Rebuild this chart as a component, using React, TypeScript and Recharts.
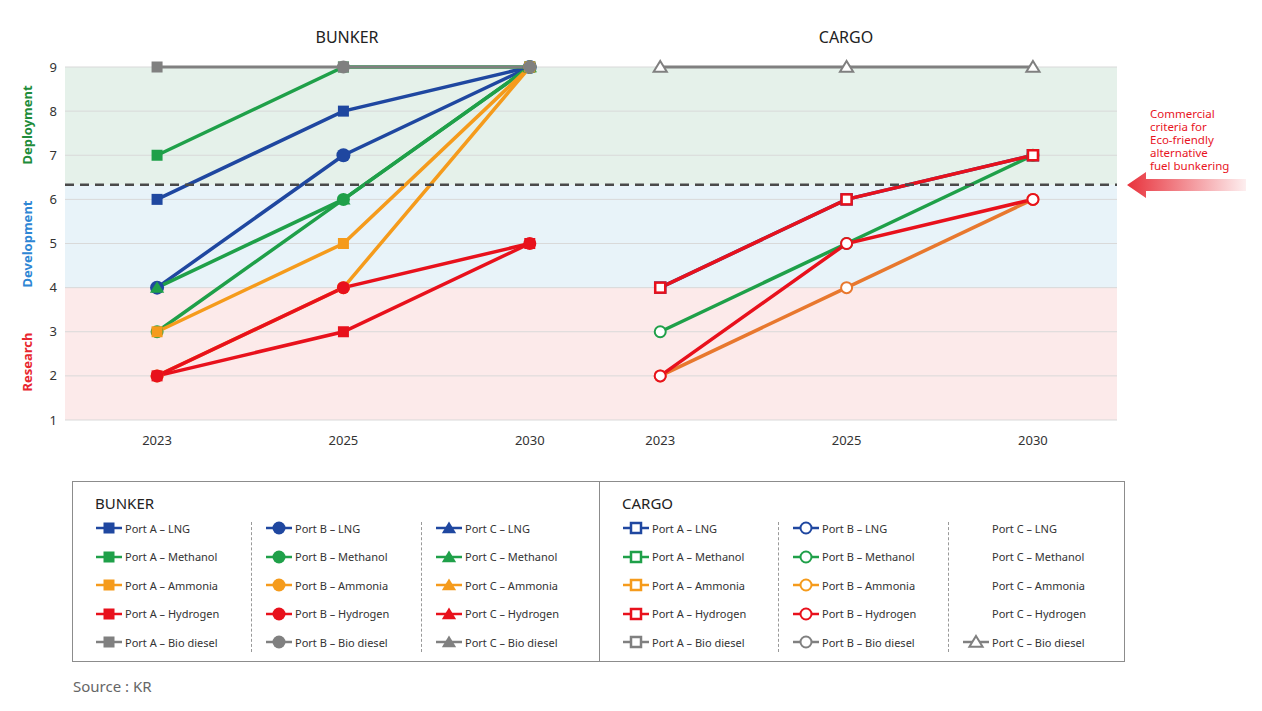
import React from 'react'
import { ComposedChart, Line, XAxis, YAxis, ReferenceArea, ReferenceLine } from 'recharts'

const years = ['2023', '2025', '2030']
const yTicks = [1, 2, 3, 4, 5, 6, 7, 8, 9]
const fuels = ['LNG', 'Methanol', 'Ammonia', 'Hydrogen', 'Bio diesel']
const ports = ['Port A', 'Port B', 'Port C']

// readiness level per year (2023, 2025, 2030), null = no point
const bunkerALng = [6, 8, 9]
const bunkerBLng = [4, 7, 9]
const bunkerAMethanol = [7, 9, 9]
const bunkerBMethanol = [3, 6, 9]
const bunkerCMethanol = [4, 6, 9]
const bunkerAAmmonia = [3, 5, 9]
const bunkerBAmmonia = [2, 4, 9]
const bunkerAHydrogen = [2, 3, 5]
const bunkerBHydrogen = [2, 4, 5]
const bunkerABioDiesel = [9, 9, null]
const bunkerBBioDiesel = [null, 9, 9]

const cargoALng = [4, 6, 7]
const cargoBMethanol = [3, 5, 7]
const cargoBAmmonia = [2, 4, 6]
const cargoBHydrogen = [2, 5, 6]
const cargoAHydrogen = [4, 6, 7]
const cargoCBioDiesel = [9, 9, 9]

const commercialLevel = 6.33
const stages = [
  { name: 'Research', from: 1, to: 4 },
  { name: 'Development', from: 4, to: commercialLevel },
  { name: 'Deployment', from: commercialLevel, to: 9 },
]

const CARGO_OFFSET = 2.7
const xTicks = [...years.map((_, i) => i), ...years.map((_, i) => i + CARGO_OFFSET)]
const xLabel = (v: number) => years[Math.round(v >= CARGO_OFFSET ? v - CARGO_OFFSET : v)]

const fuelColor: Record<string, string> = {
  LNG: '#1F47A0',
  Methanol: '#1FA049',
  Ammonia: '#F59B1C',
  Hydrogen: '#E8111C',
  'Bio diesel': '#808080',
}
const stageFill: Record<string, string> = {
  Research: '#FCEAEA',
  Development: '#E8F3F9',
  Deployment: '#E5F1EA',
}
const stageText: Record<string, string> = {
  Research: '#E8262E',
  Development: '#2E86D4',
  Deployment: '#1E8C3A',
}
const portShape: Record<string, string> = { 'Port A': 'square', 'Port B': 'circle', 'Port C': 'triangle' }

type Series = { id: string; group: 'bunker' | 'cargo'; port: string; fuel: string; values: (number | null)[]; color?: string; width?: number }

// drawing order, bottom first
const series: Series[] = [
  { id: 'bBLng', group: 'bunker', port: 'Port B', fuel: 'LNG', values: bunkerBLng },
  { id: 'bALng', group: 'bunker', port: 'Port A', fuel: 'LNG', values: bunkerALng },
  { id: 'bBMeth', group: 'bunker', port: 'Port B', fuel: 'Methanol', values: bunkerBMethanol },
  { id: 'bCMeth', group: 'bunker', port: 'Port C', fuel: 'Methanol', values: bunkerCMethanol },
  { id: 'bAMeth', group: 'bunker', port: 'Port A', fuel: 'Methanol', values: bunkerAMethanol },
  { id: 'bBAmm', group: 'bunker', port: 'Port B', fuel: 'Ammonia', values: bunkerBAmmonia },
  { id: 'bAAmm', group: 'bunker', port: 'Port A', fuel: 'Ammonia', values: bunkerAAmmonia },
  { id: 'bBHyd', group: 'bunker', port: 'Port B', fuel: 'Hydrogen', values: bunkerBHydrogen },
  { id: 'bAHyd', group: 'bunker', port: 'Port A', fuel: 'Hydrogen', values: bunkerAHydrogen },
  { id: 'bBBio', group: 'bunker', port: 'Port B', fuel: 'Bio diesel', values: bunkerBBioDiesel, width: 3 },
  { id: 'bABio', group: 'bunker', port: 'Port A', fuel: 'Bio diesel', values: bunkerABioDiesel, width: 3 },
  { id: 'cALng', group: 'cargo', port: 'Port A', fuel: 'LNG', values: cargoALng },
  { id: 'cBMeth', group: 'cargo', port: 'Port B', fuel: 'Methanol', values: cargoBMethanol },
  { id: 'cBAmm', group: 'cargo', port: 'Port B', fuel: 'Ammonia', values: cargoBAmmonia, color: '#E8782E' },
  { id: 'cBHyd', group: 'cargo', port: 'Port B', fuel: 'Hydrogen', values: cargoBHydrogen },
  { id: 'cAHyd', group: 'cargo', port: 'Port A', fuel: 'Hydrogen', values: cargoAHydrogen },
  { id: 'cCBio', group: 'cargo', port: 'Port C', fuel: 'Bio diesel', values: cargoCBioDiesel, width: 3 },
]

const toPoints = (s: Series) =>
  s.values
    .map((v, i) => ({ x: s.group === 'cargo' ? i + CARGO_OFFSET : i, v }))
    .filter((p) => p.v !== null)

function Marker({ cx, cy, shape, color, hollow, big }: { cx: number; cy: number; shape: string; color: string; hollow: boolean; big?: boolean }) {
  const fill = hollow ? '#fff' : color
  const stroke = hollow ? color : 'none'
  const sw = hollow ? 2.5 : 0
  if (shape === 'square') {
    const s = hollow ? 10 : 11
    return <rect x={cx - s / 2} y={cy - s / 2} width={s} height={s} fill={fill} stroke={stroke} strokeWidth={sw} />
  }
  if (shape === 'circle') {
    const r = hollow ? 5.5 : big ? 7 : 6.5
    return <circle cx={cx} cy={cy} r={r} fill={fill} stroke={stroke} strokeWidth={hollow ? 2 : 0} />
  }
  const h = hollow ? 6 : 6.5
  return (
    <polygon
      points={`${cx},${cy - h} ${cx + h * 1.1},${cy + h * 0.8} ${cx - h * 1.1},${cy + h * 0.8}`}
      fill={fill}
      stroke={stroke}
      strokeWidth={hollow ? 2 : 0}
      strokeLinejoin="miter"
    />
  )
}

const makeDot = (s: Series, color: string) => (p: any) => {
  const key = `${s.id}-${p.index}`
  if (p.cx == null || p.cy == null) return <g key={key} />
  return (
    <Marker
      key={key}
      cx={p.cx}
      cy={p.cy}
      shape={portShape[s.port]}
      color={color}
      hollow={s.group === 'cargo'}
      big={s.id === 'bBLng'}
    />
  )
}

function LegendIcon({ shape, color, hollow }: { shape: string; color: string; hollow: boolean }) {
  return (
    <svg width={28} height={16} style={{ display: 'block' }}>
      <line x1={1} y1={8} x2={27} y2={8} stroke={color} strokeWidth={2.5} />
      <Marker cx={14} cy={8} shape={shape} color={color} hollow={hollow} />
    </svg>
  )
}

function LegendPanel({ title, group, left, width }: { title: string; group: 'bunker' | 'cargo'; left: number; width: number }) {
  const colX = [22, 192, 362]
  return (
    <div style={{ position: 'absolute', left, top: 0, width, height: 181 }}>
      <div style={{ position: 'absolute', left: 22, top: 11, fontSize: 15, color: '#222' }}>{title}</div>
      {[178, 348].map((x) => (
        <div key={x} style={{ position: 'absolute', left: x, top: 40, height: 130, borderLeft: '1px dashed #999' }} />
      ))}
      {ports.map((port, ci) =>
        fuels.map((fuel, ri) => {
          const showIcon = group === 'bunker' || port !== 'Port C' || fuel === 'Bio diesel'
          return (
            <div
              key={port + fuel}
              style={{ position: 'absolute', left: colX[ci], top: 38 + ri * 28.5, display: 'flex', alignItems: 'center', fontSize: 11, color: '#333', whiteSpace: 'nowrap' }}
            >
              <div style={{ width: 28, height: 16, marginRight: 2 }}>
                {showIcon && <LegendIcon shape={portShape[port]} color={fuelColor[fuel]} hollow={group === 'cargo'} />}
              </div>
              <span>{`${port} – ${fuel}`}</span>
            </div>
          )
        }),
      )}
    </div>
  )
}

export default function App() {
  return (
    <div style={{ position: 'absolute', left: 0, top: 0, width: 1262, height: 711, background: '#fff', fontFamily: '"Noto Sans", sans-serif', overflow: 'hidden' }}>
      <ComposedChart width={1262} height={460} margin={{ top: 67, right: 100, bottom: 10, left: 0 }}>
        <XAxis
          dataKey="x"
          type="number"
          domain={[-0.494, 5.151]}
          ticks={xTicks}
          tickFormatter={xLabel}
          allowDataOverflow
          axisLine={false}
          tickLine={false}
          tickMargin={10}
          height={30}
          tick={{ fontSize: 13, fill: '#333' }}
        />
        <YAxis yAxisId="left" domain={[1, 9]} ticks={yTicks} width={65} axisLine={false} tickLine={false} tick={{ fontSize: 13, fill: '#333' }} />
        <YAxis yAxisId="right" orientation="right" domain={[1, 9]} ticks={yTicks} width={45} axisLine={false} tickLine={false} tick={{ fontSize: 13, fill: '#333' }} />
        {stages.map((st) => (
          <ReferenceArea key={st.name} yAxisId="left" y1={st.from} y2={st.to} fill={stageFill[st.name]} fillOpacity={1} stroke="none" />
        ))}
        {yTicks.map((t) => (
          <ReferenceLine key={t} yAxisId="left" y={t} stroke="#D9D9D9" strokeWidth={1} />
        ))}
        {series.map((s) => {
          const color = s.color ?? fuelColor[s.fuel]
          return (
            <Line
              key={s.id}
              yAxisId="left"
              data={toPoints(s)}
              dataKey="v"
              stroke={color}
              strokeWidth={s.width ?? 3.5}
              dot={makeDot(s, color)}
              activeDot={false}
              isAnimationActive={false}
            />
          )
        })}
        <ReferenceLine yAxisId="left" y={commercialLevel} stroke="#4A4A4A" strokeWidth={2.5} strokeDasharray="9 6" />
      </ComposedChart>

      <div style={{ position: 'absolute', left: 347, top: 37, transform: 'translate(-50%,-50%)', fontSize: 16, color: '#222' }}>BUNKER</div>
      <div style={{ position: 'absolute', left: 846, top: 37, transform: 'translate(-50%,-50%)', fontSize: 16, color: '#222' }}>CARGO</div>

      {[
        { name: 'Deployment', y: 125 },
        { name: 'Development', y: 244 },
        { name: 'Research', y: 362 },
      ].map((l) => (
        <div
          key={l.name}
          style={{ position: 'absolute', left: 27, top: l.y, transform: 'translate(-50%,-50%) rotate(-90deg)', fontSize: 13, fontWeight: 700, color: stageText[l.name], whiteSpace: 'nowrap' }}
        >
          {l.name}
        </div>
      ))}

      <div style={{ position: 'absolute', left: 1150, top: 107, fontSize: 11.5, lineHeight: '13px', color: '#E8141E' }}>
        Commercial
        <br />
        criteria for
        <br />
        Eco-friendly
        <br />
        alternative
        <br />
        fuel bunkering
      </div>
      <svg style={{ position: 'absolute', left: 1120, top: 168 }} width={135} height={36}>
        <defs>
          <linearGradient id="arrowGrad" x1="0" y1="0" x2="1" y2="0">
            <stop offset="0%" stopColor="#E8323C" stopOpacity={1} />
            <stop offset="100%" stopColor="#E8323C" stopOpacity={0.08} />
          </linearGradient>
        </defs>
        <polygon points="7,17 26,4 26,11 126,11 126,23 26,23 26,30" fill="url(#arrowGrad)" />
      </svg>

      <div style={{ position: 'absolute', left: 72, top: 481, width: 1053, height: 181, border: '1px solid #8C8C8C', boxSizing: 'border-box' }}>
        <LegendPanel title="BUNKER" group="bunker" left={0} width={527} />
        <div style={{ position: 'absolute', left: 526, top: 0, height: 179, borderLeft: '1px solid #8C8C8C' }} />
        <LegendPanel title="CARGO" group="cargo" left={527} width={526} />
      </div>

      <div style={{ position: 'absolute', left: 73, top: 676, fontSize: 15, color: '#666' }}>Source : KR</div>
    </div>
  )
}
